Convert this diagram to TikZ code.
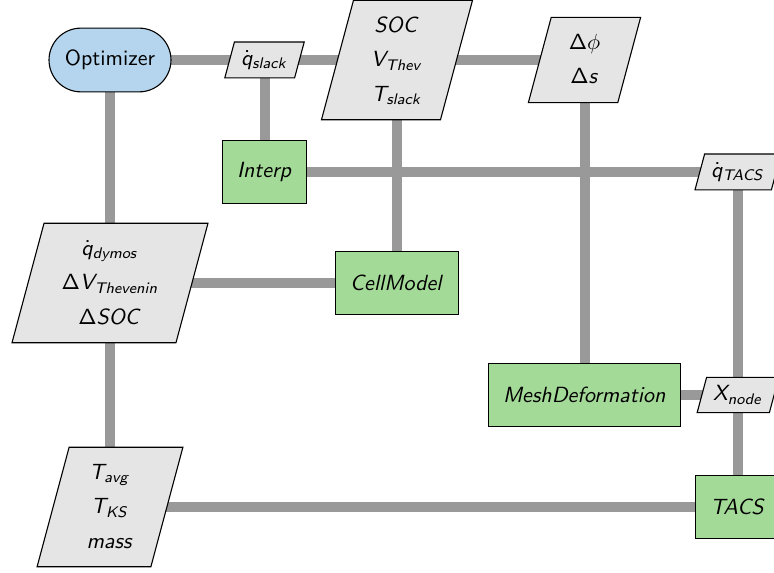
\documentclass[tikz,border=0pt]{standalone}
\renewcommand*\familydefault{\sfdefault}
\renewcommand{\arraystretch}{1.3}
% serifenlose Formeln
\DeclareSymbolFont{letters}{OT1}{cmss}{m}{sl}
\DeclareSymbolFont{operators}{OT1}{cmss}{m}{n}
\DeclareSymbolFont{oldletters}{OML}{cmm}{m}{it}
\DeclareMathSymbol{\phi}{\mathord}{oldletters}{"1E}
\DeclareMathSymbol{\Delta}{\mathalpha}{operators}{"01}
\usetikzlibrary{shapes.geometric,backgrounds}
\definecolor{funcgreen}{RGB}{164,218,152}
\definecolor{optblue}{RGB}{180,213,237}
\tikzset{
  func/.style={draw,line width=0.5pt,fill=funcgreen,minimum height=29pt,inner xsep=6.8pt},
  optim/.style={draw,line width=0.5pt,fill=optblue,rounded corners=14.5pt,minimum width=55.5pt,minimum height=29pt},
  data/.style={draw,line width=0.5pt,fill=black!10,trapezium,trapezium left angle=75,trapezium right angle=105,inner xsep=3pt,inner ysep=3.8pt},
  link/.style={line width=4.55pt,draw=black!40}
}
\begin{document}
\begin{tikzpicture}[x=0.455pt,y=-0.455pt]
\useasboundingbox (0,0) rectangle (774,573);
% Optimierer und Daten der ersten Zeile
\node[optim] (opt) at (110,60) {Optimizer};
\node[data] (qslack) at (264.5,60) {$\dot q_{slack}$};
\node[data] (soc) at (397,60) {$\begin{array}{c}SOC\\V_{Thev}\\T_{slack}\end{array}$};
\node[data] (dphi) at (584.5,60) {$\begin{array}{c}\Delta\phi\\\Delta s\end{array}$};
% Interpolation
\node[func] (interp) at (264.5,172) {$Interp$};
\node[data] (qtacs) at (738,172) {$\dot q_{TACS}$};
% Zellmodell
\node[data] (dymos) at (110,283) {$\begin{array}{c}\dot q_{dymos}\\\Delta V_{Thevenin}\\\Delta SOC\end{array}$};
\node[func] (cell) at (397,283) {$CellModel$};
% Netzverformung
\node[func] (mesh) at (584.5,395) {$MeshDeformation$};
\node[data] (xnode) at (738,395) {$X_{node}$};
% Ausgaben und TACS
\node[data] (tavg) at (110,507) {$\begin{array}{c}T_{avg}\\T_{KS}\\mass\end{array}$};
\node[func] (tacs) at (738,507) {$TACS$};
% Verbindungen hinter den Knoten
\begin{scope}[on background layer]
\draw[link] (opt.center) -- (dphi.center);
\draw[link] (opt.center) -- (tavg.center);
\draw[link] (qslack.center) -- (interp.center);
\draw[link] (soc.center) -- (cell.center);
\draw[link] (dphi.center) -- (mesh.center);
\draw[link] (interp.center) -- (qtacs.center);
\draw[link] (qtacs.center) -- (tacs.center);
\draw[link] (dymos.center) -- (cell.center);
\draw[link] (mesh.center) -- (xnode.center);
\draw[link] (tavg.center) -- (tacs.center);
\end{scope}
\end{tikzpicture}
\end{document}
